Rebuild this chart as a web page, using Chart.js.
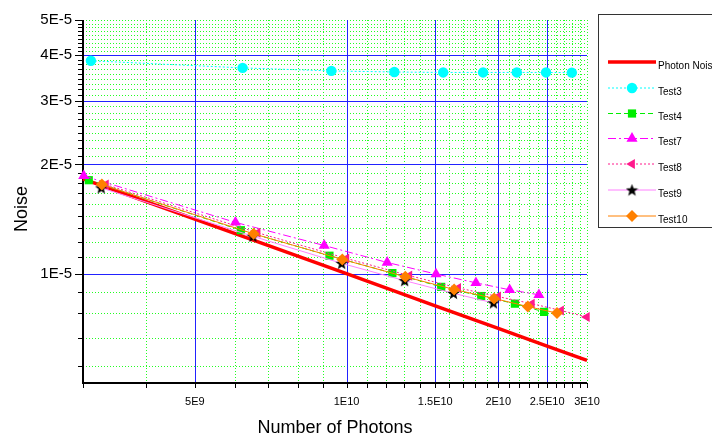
<!DOCTYPE html>
<html>
<head>
<meta charset="utf-8">
<script src="https://cdn.jsdelivr.net/npm/chart.js@4.4.0/dist/chart.umd.min.js"></script>
<style>
  html, body { margin: 0; padding: 0; background: #fff; }
  canvas { display: block; }
</style>
</head>
<body>
<canvas id="chart" width="712" height="438"></canvas>
<script>
// ---- data ----
const photonX = [3e9, 5e9, 1e10, 1.5e10, 2e10, 2.5e10, 3e10];
const photonY = [1.826e-5, 1.414e-5, 1.0e-5, 8.16e-6, 7.07e-6, 6.32e-6, 5.77e-6];

const test3X = [3.11e9, 6.22e9, 9.33e9, 1.244e10, 1.555e10, 1.866e10, 2.177e10, 2.488e10, 2.799e10];
const test3Y = [3.86e-5, 3.69e-5, 3.62e-5, 3.595e-5, 3.585e-5, 3.585e-5, 3.585e-5, 3.585e-5, 3.58e-5];

const test4X = [3.08e9, 6.17e9, 9.25e9, 1.233e10, 1.541e10, 1.85e10, 2.158e10, 2.466e10];
const test4Y = [1.81e-5, 1.318e-5, 1.121e-5, 1.004e-5, 9.2e-6, 8.68e-6, 8.27e-6, 7.85e-6];

const test7X = [3.01e9, 6.02e9, 9.03e9, 1.204e10, 1.505e10, 1.806e10, 2.107e10, 2.408e10];
const test7Y = [1.86e-5, 1.385e-5, 1.196e-5, 1.074e-5, 9.98e-6, 9.44e-6, 9.03e-6, 8.75e-6];

const test8X = [3.33e9, 6.66e9, 9.99e9, 1.332e10, 1.665e10, 1.998e10, 2.331e10, 2.664e10, 2.997e10];
const test8Y = [1.76e-5, 1.297e-5, 1.102e-5, 9.88e-6, 9.14e-6, 8.65e-6, 8.27e-6, 7.92e-6, 7.6e-6];

const test9X = [3.26e9, 6.52e9, 9.78e9, 1.304e10, 1.63e10, 1.956e10];
const test9Y = [1.724e-5, 1.268e-5, 1.068e-5, 9.57e-6, 8.83e-6, 8.31e-6];

const test10X = [3.27e9, 6.54e9, 9.81e9, 1.308e10, 1.635e10, 1.962e10, 2.289e10, 2.616e10];
const test10Y = [1.76e-5, 1.288e-5, 1.095e-5, 9.81e-6, 9.05e-6, 8.55e-6, 8.12e-6, 7.79e-6];

const xTicks = [5e9, 1e10, 1.5e10, 2e10, 2.5e10, 3e10];
const xTickLabels = ['5E9', '1E10', '1.5E10', '2E10', '2.5E10', '3E10'];
const yTicks = [1e-5, 2e-5, 3e-5, 4e-5, 5e-5];
const yTickLabels = ['1E-5', '2E-5', '3E-5', '4E-5', '5E-5'];

// minor ticks: 1E9 steps on x, 8 per major interval on y
const xMinor = [];
for (let v = 3; v < 30; v++) if (v % 5) xMinor.push(v * 1e9);
const yMinor = [];
for (let b = 0; b < 5; b++) {
  for (let k = 1; k <= 8; k++) {
    const v = b * 1e-5 + k * 1e-5 / 9;
    if (v > 5e-6 && v < 5e-5) yMinor.push(v);
  }
}

// filled black star for Test9
const star = document.createElement('canvas');
star.width = 13; star.height = 13;
(function() {
  const c = star.getContext('2d');
  c.beginPath();
  for (let i = 0; i < 10; i++) {
    const r = i % 2 ? 2.7 : 6.5;
    const a = -Math.PI / 2 + i * Math.PI / 5;
    c.lineTo(6.5 + r * Math.cos(a), 7 + r * Math.sin(a));
  }
  c.closePath();
  c.fillStyle = '#000';
  c.fill();
})();

function pts(xs, ys) {
  return xs.map((x, i) => ({ x: x, y: ys[i] }));
}

const series = [
  { label: 'Photon Noise', data: pts(photonX, photonY), color: '#ff0000', width: 3.5, dash: [], style: false, radius: 0, order: 6 },
  { label: 'Test3', data: pts(test3X, test3Y), color: '#00ffff', width: 1, dash: [2, 2], style: 'circle', radius: 5.2, order: 5 },
  { label: 'Test4', data: pts(test4X, test4Y), color: '#00ee00', width: 1, dash: [5, 3], style: 'rect', radius: 5.8, order: 4 },
  { label: 'Test7', data: pts(test7X, test7Y), color: '#ff00ff', width: 1, dash: [8, 3, 2, 3], style: 'triangle', radius: 6.4, order: 3 },
  { label: 'Test8', data: pts(test8X, test8Y), color: '#ff1a8c', width: 1, dash: [2, 2], style: 'triangle', rot: -90, radius: 5.8, order: 2 },
  { label: 'Test9', data: pts(test9X, test9Y), color: '#ff80ff', pointColor: '#000', width: 1, dash: [], style: star, radius: 5, order: 1 },
  { label: 'Test10', data: pts(test10X, test10Y), color: '#ff8000', width: 1, dash: [], style: 'rectRot', radius: 6, order: 0 }
];

const datasets = series.map(s => ({
  label: s.label,
  data: s.data,
  borderColor: s.color,
  borderWidth: s.width,
  borderDash: s.dash,
  backgroundColor: s.pointColor || s.color,
  pointBackgroundColor: s.pointColor || s.color,
  pointBorderColor: s.pointColor || s.color,
  pointBorderWidth: 0,
  pointStyle: s.style,
  pointRotation: s.rot || 0,
  pointRadius: s.radius,
  tension: 0,
  clip: false,
  order: s.order
}));

function line(ctx, x1, y1, x2, y2) {
  ctx.beginPath();
  ctx.moveTo(x1, y1);
  ctx.lineTo(x2, y2);
  ctx.stroke();
}

const gridPlugin = {
  id: 'grid',
  beforeDatasetsDraw(chart) {
    const { ctx, chartArea: a, scales: { x, y } } = chart;
    ctx.save();
    ctx.lineWidth = 1;
    // minor grid, green dotted
    ctx.strokeStyle = '#22ff22';
    ctx.setLineDash([1, 2]);
    xMinor.concat([3e10]).forEach(v => {
      const p = Math.round(x.getPixelForValue(v)) + 0.5;
      line(ctx, p, a.top, p, a.bottom);
    });
    yMinor.concat([5e-5]).forEach(v => {
      const p = Math.round(y.getPixelForValue(v)) + 0.5;
      line(ctx, a.left, p, a.right, p);
    });
    // major grid, blue
    ctx.setLineDash([]);
    ctx.strokeStyle = '#2222ff';
    xTicks.slice(0, -1).forEach(v => {
      const p = Math.round(x.getPixelForValue(v)) + 0.5;
      line(ctx, p, a.top, p, a.bottom);
    });
    yTicks.slice(0, -1).forEach(v => {
      const p = Math.round(y.getPixelForValue(v)) + 0.5;
      line(ctx, a.left, p, a.right, p);
    });
    // axes and tick marks
    ctx.strokeStyle = '#000';
    ctx.lineWidth = 1;
    xMinor.concat(xTicks).forEach(v => {
      const p = Math.round(x.getPixelForValue(v)) + 0.5;
      line(ctx, p, a.bottom, p, a.bottom + 5);
    });
    yMinor.forEach(v => {
      const p = Math.round(y.getPixelForValue(v)) + 0.5;
      line(ctx, a.left - 5, p, a.left, p);
    });
    yTicks.forEach(v => {
      const p = Math.round(y.getPixelForValue(v)) + 0.5;
      line(ctx, a.left - 8, p, a.left, p);
    });
    ctx.lineWidth = 2;
    line(ctx, a.left, a.top, a.left, a.bottom + 1);
    line(ctx, a.left - 1, a.bottom, a.right, a.bottom);
    ctx.restore();
  }
};

function drawMarker(ctx, s, cx, cy) {
  if (!s.style) return;
  if (s.style === star) {
    ctx.drawImage(star, cx - 6.5, cy - 6.5);
    return;
  }
  ctx.fillStyle = s.pointColor || s.color;
  const r = s.radius;
  ctx.beginPath();
  if (s.style === 'circle') {
    ctx.arc(cx, cy, r, 0, Math.PI * 2);
  } else if (s.style === 'rect') {
    const h = r * Math.SQRT1_2;
    ctx.rect(cx - h, cy - h, 2 * h, 2 * h);
  } else if (s.style === 'rectRot') {
    ctx.moveTo(cx, cy - r); ctx.lineTo(cx + r, cy); ctx.lineTo(cx, cy + r); ctx.lineTo(cx - r, cy);
  } else if (s.style === 'triangle') {
    let ang = (s.rot || 0) * Math.PI / 180;
    for (let i = 0; i < 3; i++) {
      ctx.lineTo(cx + Math.sin(ang) * r, cy - Math.cos(ang) * r);
      ang += Math.PI * 2 / 3;
    }
  }
  ctx.closePath();
  ctx.fill();
}

const legendPlugin = {
  id: 'boxLegend',
  afterDraw(chart) {
    const ctx = chart.ctx;
    ctx.save();
    ctx.strokeStyle = '#333';
    ctx.lineWidth = 1;
    ctx.strokeRect(598.5, 14.5, 140, 213);
    const rows = [62, 88, 113.5, 138.5, 164, 190, 216];
    ctx.font = '10px "Liberation Sans", Arial, sans-serif';
    ctx.textBaseline = 'middle';
    ctx.textAlign = 'left';
    series.forEach((s, i) => {
      const yy = rows[i];
      ctx.strokeStyle = s.color;
      ctx.lineWidth = s.width;
      ctx.setLineDash(s.dash);
      line(ctx, 608, yy, 656, yy);
      ctx.setLineDash([]);
      drawMarker(ctx, s, 632, yy);
      ctx.fillStyle = '#000';
      ctx.fillText(s.label, 658, yy + 4);
    });

    // axis titles
    ctx.font = '18px "Liberation Sans", Arial, sans-serif';
    ctx.fillStyle = '#000';
    ctx.textAlign = 'center';
    ctx.textBaseline = 'alphabetic';
    ctx.fillText('Number of Photons', 335, 433);
    ctx.translate(26.5, 209);
    ctx.rotate(-Math.PI / 2);
    ctx.fillText('Noise', 0, 0);
    ctx.restore();
  }
};

new Chart(document.getElementById('chart'), {
  type: 'line',
  data: { datasets: datasets },
  options: {
    responsive: false,
    animation: false,
    devicePixelRatio: 1,
    events: [],
    layout: { padding: { top: 14, right: 125, left: 0, bottom: 0 } },
    plugins: { legend: { display: false }, tooltip: { enabled: false } },
    scales: {
      x: {
        type: 'logarithmic',
        position: 'bottom',
        min: 3e9,
        max: 3e10,
        grid: { display: false, drawTicks: false, tickLength: 0 },
        border: { display: false },
        afterBuildTicks: s => { s.ticks = xTicks.map(v => ({ value: v })); },
        afterFit: s => { s.height = 55; },
        ticks: {
          autoSkip: false,
          maxRotation: 0,
          padding: 12,
          color: '#000',
          font: { family: '"Liberation Sans", Arial, sans-serif', size: 11 },
          callback: (v, i) => xTickLabels[i]
        }
      },
      y: {
        type: 'logarithmic',
        position: 'left',
        min: 5e-6,
        max: 5e-5,
        grid: { display: false, drawTicks: false, tickLength: 0 },
        border: { display: false },
        afterBuildTicks: s => { s.ticks = yTicks.map(v => ({ value: v })); },
        afterFit: s => { s.width = 83; },
        ticks: {
          autoSkip: false,
          padding: 11,
          color: '#000',
          font: { family: '"Liberation Sans", Arial, sans-serif', size: 15 },
          callback: (v, i) => yTickLabels[i]
        }
      }
    }
  },
  plugins: [gridPlugin, legendPlugin]
});
</script>
</body>
</html>
